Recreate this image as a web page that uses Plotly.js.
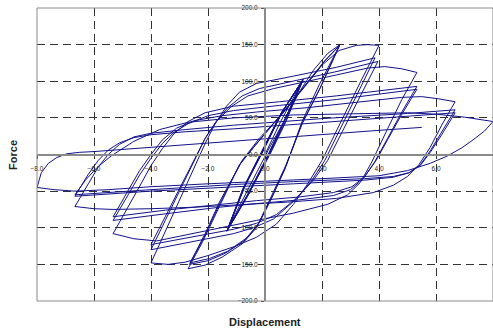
<!DOCTYPE html>
<html>
<head>
<meta charset="utf-8">
<script src="https://cdn.plot.ly/plotly-3.0.1.min.js"></script>
<style>html,body{margin:0;padding:0;background:#fff;}#chart{width:493px;height:333px;}</style>
</head>
<body>
<div id="chart"></div>
<script>
// Tick labels
var xTickVals = [-8, -6, -4, -2, 0, 2, 4, 6, 8];
var yTickVals = [-200, -150, -100, -50, 0, 50, 100, 150, 200];

// Elastic cycles (+/-1.33)
var elasticDisp = [0, 0.55, 1.33, 0.6, -0.15, -0.75, -1.33, -0.6, 0.15, 0.7, 1.30, 0.58, -0.14, -0.72, -1.31, -0.62, 0.13, 0.72, 1.33, 0.6, -0.16, -0.74, -1.33, -0.6, 0.12, 0.7, 1.32, 0.58, -0.15, -0.72, -1.30,
  -0.55, 0.2, 0.75, 1.34, 0.62, -0.1, -0.7, -1.32, -0.57, 0.18, 0.74, 1.31, 0.56, -0.2, -0.77, -1.34, -0.63, 0.1, 0.68, 1.33, 0.6, -0.12, -0.73, -1.30];
var elasticForce = [0, 45, 102, 58, 0, -45, -104, -56, 0, 48, 100, 57, 0, -44, -102, -55, 0, 49, 101, 58, 0, -45, -104, -56, 0, 48, 100, 57, 0, -44, -101,
  -52, 2, 46, 103, 59, 2, -43, -103, -53, 3, 47, 101, 56, -2, -46, -105, -57, -1, 46, 102, 58, 1, -44, -101];

// Cycles at +/-2.67
var cyc2Disp = [-1.30, -0.6, 0.1, 0.7, 1.2, 1.7, 2.2, 2.63,
  1.9, 1.3, 0.7, 0.2, -0.3, -0.8, -1.5, -2.1, -2.7,
  -2.2, -1.6, -1.15, -0.9, -0.4, 0.2, 0.9, 1.6, 2.1, 2.63,
  1.95, 1.3, 0.72, 0.2, -0.25, -0.7, -1.4, -2.0, -2.65,
  -2.15, -1.6, -1.1, -0.85, -0.35, 0.25, 0.95, 1.6, 2.1, 2.6,
  1.95, 1.3, 0.75, 0.25, -0.2, -0.65, -1.3, -1.95, -2.63];
var cyc2Force = [-101, -48, 5, 48, 85, 115, 138, 150,
  95, 45, -20, -62, -100, -122, -140, -151, -156,
  -120, -70, -33, -14, 10, 38, 70, 103, 128, 150,
  92, 42, -16, -60, -96, -117, -135, -145, -150,
  -114, -68, -30, -12, 12, 40, 72, 104, 128, 148,
  92, 42, -14, -58, -93, -114, -132, -142, -148];

// Cycles at +/-4.0
var cyc3Disp = [-2.63, -2.1, -1.6, -1.1, -0.8, -0.2, 0.6, 1.3, 2.0, 2.6, 3.2, 3.6, 4.0,
  3.4, 2.7, 2.0, 1.5, 1.0, 0.4, -0.3, -1.1, -2.0, -2.8, -3.4, -4.0,
  -3.5, -3.0, -2.5, -2.1, -1.75, -1.35, -0.9, -0.3, 1.0, 2.5, 3.86,
  3.3, 2.7, 2.1, 1.6, 1.0, 0.3, -0.4, -1.1, -2.5, -4.0,
  -3.5, -3.0, -2.5, -2.1, -1.7, -1.3, -0.8, -0.2, 1.2, 2.6, 3.96,
  3.4, 2.8, 2.2, 1.7, 1.1, 0.4, -0.3, -1.1, -2.5, -4.0];
var cyc3Force = [-148, -108, -65, -28, -8, 22, 55, 88, 122, 142, 149, 150, 149,
  103, 48, -8, -40, -68, -95, -113, -126, -138, -147, -150, -148,
  -105, -62, -20, 15, 42, 66, 85, 97, 107, 119, 132,
  88, 40, -8, -38, -64, -88, -100, -108, -119, -130,
  -90, -50, -10, 22, 46, 64, 80, 90, 102, 114, 127,
  84, 37, -8, -35, -60, -82, -94, -102, -112, -123];

// Cycles at +/-5.33
var cyc4Disp = [-4.0, -3.5, -3.0, -2.5, -2.1, -1.7, -1.2, -0.6, 0.3, 1.5, 2.8, 3.6, 4.2, 4.8, 5.33,
  4.8, 4.3, 3.75, 3.35, 2.9, 2.2, 1.0, -0.3, -1.5, -2.8, -3.8, -4.6, -5.33,
  -4.8, -4.35, -4.0, -3.6, -3.2, -2.7, -2.1, -1.1, 0.5, 2.5, 5.33,
  4.8, 4.3, 3.85, 3.45, 3.0, 2.4, 1.2, -0.3, -1.6, -3.5, -5.33,
  -4.8, -4.4, -4.0, -3.6, -3.2, -2.7, -2.0, -1.1, 0.5, 2.5, 5.33,
  4.8, 4.3, 3.9, 3.5, 3.05, 2.4, 1.2, -0.3, -1.6, -3.5, -5.33];
var cyc4Force = [-123, -85, -45, -8, 22, 45, 65, 80, 90, 100, 111, 118, 120, 117, 112,
  75, 35, -10, -38, -55, -68, -80, -90, -100, -110, -118, -115, -108,
  -72, -40, -15, 8, 28, 45, 57, 66, 72, 80, 93,
  58, 22, -10, -33, -48, -56, -62, -67, -72, -81, -90,
  -55, -28, -5, 15, 30, 42, 53, 60, 67, 75, 89,
  55, 20, -8, -30, -44, -52, -58, -63, -68, -76, -85];

// Cycles at +/-6.67
var cyc5Disp = [-5.33, -4.8, -4.4, -4.0, -3.6, -3.1, -2.5, -1.5, -0.3, 1.5, 3.5, 4.8, 5.5, 6.1, 6.67,
  6.2, 5.8, 5.4, 5.0, 4.5, 3.8, 2.5, 0.8, -1.1, -2.5, -4.0, -5.33, -6.0, -6.67,
  -6.2, -5.85, -5.5, -5.1, -4.6, -4.0, -2.8, -1.1, 2.0, 5.0, 6.67,
  6.2, 5.8, 5.45, 5.05, 4.5, 3.5, 1.0, -1.1, -4.0, -6.67,
  -6.2, -5.85, -5.5, -5.1, -4.6, -4.0, -2.8, -1.1, 2.0, 5.0, 6.67,
  6.2, 5.8, 5.45, 5.05, 4.5, 3.5, 1.0, -1.1, -4.0, -6.67];
var cyc5Force = [-85, -50, -22, 0, 20, 36, 46, 53, 58, 64, 72, 78, 79, 76, 72,
  40, 10, -14, -30, -42, -52, -60, -65, -69, -72, -74, -75, -74, -71,
  -40, -17, 0, 14, 24, 29, 34, 40, 49, 56, 61,
  30, 5, -14, -25, -31, -35, -40, -44, -50, -57,
  -27, -8, 6, 16, 23, 27, 31, 35, 44, 52, 57,
  27, 3, -15, -25, -30, -33, -37, -41, -48, -55];

// Cycle at +/-8.0 and final reloading
var cyc6Disp = [-6.67, -6.3, -5.9, -5.4, -4.6, -3.7, -2.7, -1.1, 1.0, 3.0, 5.0, 6.0, 7.0, 8.0,
  7.7, 7.3, 6.9, 6.4, 5.8, 5.0, 4.0, 2.0, 0, -2.0, -4.0, -5.5, -6.67, -7.4, -8.0,
  -7.85, -7.6, -7.3, -6.95, -6.5, -6.0, -3.0, -0.53, 2.0, 4.0, 5.5];
var cyc6Force = [-55, -35, -18, -2, 18, 34, 44, 50, 54, 56, 57, 55, 51, 45,
  32, 20, 9, -2, -12, -22, -29, -33, -36, -40, -44, -48, -50, -48, -45,
  -25, -12, -4, 1, 3, 4, 13, 20, 27, 33, 37];

var groups = [
  [elasticDisp, elasticForce],
  [cyc2Disp, cyc2Force],
  [cyc3Disp, cyc3Force],
  [cyc4Disp, cyc4Force],
  [cyc5Disp, cyc5Force],
  [cyc6Disp, cyc6Force]
];

var traces = groups.map(function (g) {
  return {
    x: g[0], y: g[1], type: 'scatter', mode: 'lines',
    line: {color: '#12128c', width: 1}, hoverinfo: 'skip'
  };
});

var axisCommon = {
  showgrid: true, gridcolor: '#333333', gridwidth: 1, griddash: '8px,5px',
  zeroline: false, anchor: 'free', position: 0.5,
  showline: true, linecolor: '#8a8a8a', linewidth: 2,
  ticks: 'outside', ticklen: 3, tickcolor: '#333333', tickwidth: 1,
  tickformat: '.1f',
  tickfont: {family: 'Liberation Sans, Arial, sans-serif', size: 6.5, color: '#222222'}
};

var layout = {
  width: 493, height: 333,
  margin: {l: 37, r: 0, t: 8, b: 32, pad: 0},
  paper_bgcolor: '#ffffff', plot_bgcolor: '#ffffff',
  showlegend: false,
  font: {family: 'Liberation Sans, Arial, sans-serif'},
  xaxis: Object.assign({}, axisCommon, {range: [-8, 8], tickvals: xTickVals, ticklabelstandoff: 5}),
  yaxis: Object.assign({}, axisCommon, {range: [-200, 200], tickvals: yTickVals, ticklabelstandoff: 2}),
  shapes: [{type: 'rect', xref: 'paper', yref: 'paper', x0: 0, x1: 1, y0: 0, y1: 1,
    line: {color: '#8a8a8a', width: 1}, layer: 'above'}],
  annotations: [
    {text: 'Force', xref: 'paper', yref: 'paper', x: -0.054, y: 0.5, textangle: -90,
     showarrow: false, xanchor: 'center', yanchor: 'middle',
     font: {family: 'Liberation Sans, Arial, sans-serif', size: 11, color: '#222222', weight: 'bold'}},
    {text: 'Displacement', xref: 'paper', yref: 'paper', x: 0.5, y: -0.072,
     showarrow: false, xanchor: 'center', yanchor: 'middle',
     font: {family: 'Liberation Sans, Arial, sans-serif', size: 11, color: '#222222', weight: 'bold'}}
  ]
};

Plotly.newPlot('chart', traces, layout, {displayModeBar: false, staticPlot: true});
</script>
</body>
</html>
